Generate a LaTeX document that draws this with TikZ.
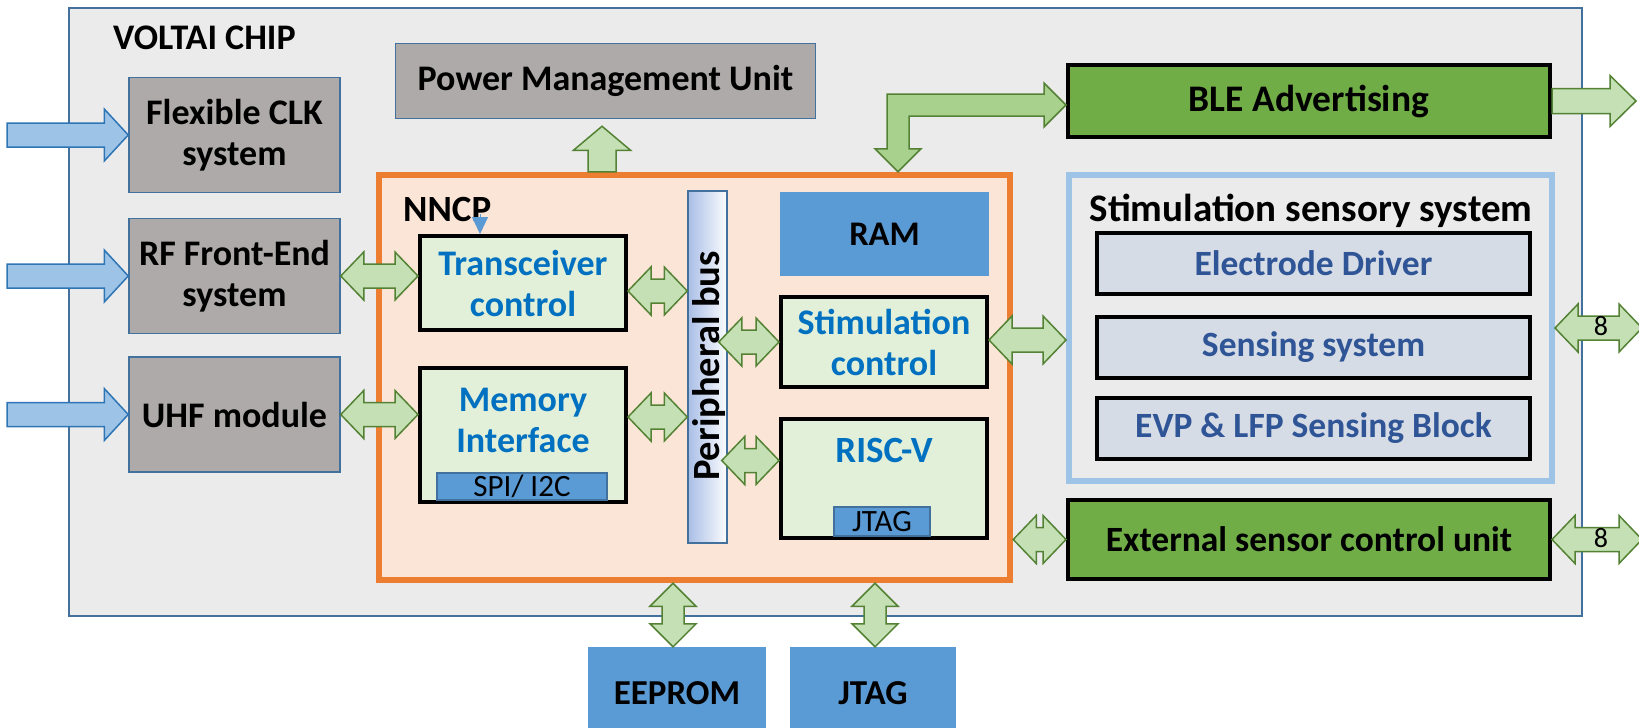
\documentclass[tikz,border=0pt]{standalone}
\usepackage{fontspec}
\setmainfont{Carlito}
\usetikzlibrary{calc,arrows.meta}

\definecolor{chipfill}{HTML}{EBEBEB}
\definecolor{chipline}{HTML}{41719C}
\definecolor{grayfill}{HTML}{AEAAAA}
\definecolor{inblue}{HTML}{9DC3E6}
\definecolor{inblueline}{HTML}{2E75B6}
\definecolor{gfill}{HTML}{C5E0B4}
\definecolor{gfilldark}{HTML}{A9D18E}
\definecolor{gline}{HTML}{548235}
\definecolor{nnfill}{HTML}{FBE5D6}
\definecolor{nnline}{HTML}{ED7D31}
\definecolor{boxfill}{HTML}{E2F0D9}
\definecolor{txtblue}{HTML}{0070C0}
\definecolor{midblue}{HTML}{5B9BD5}
\definecolor{lblue}{HTML}{9DC3E6}
\definecolor{sfill}{HTML}{D6DCE5}
\definecolor{stxt}{HTML}{2F5597}
\definecolor{bgreen}{HTML}{70AD47}
\definecolor{busblue}{HTML}{A9BEE6}

\newcommand\fsA{\fontsize{36}{41}\selectfont}
\newcommand\fsB{\fontsize{31}{36}\selectfont}
\newcommand\fsize[1]{\fontsize{#1}{41}\selectfont}

% single arrow pointing right: #2 from, #3 to, #4 half shaft, #5 half head, #6 head length
\newcommand\sglR[6][]{%
  \path[#1] let \p1=#2, \p2=#3 in
    (\x1,\y1+#4) -- (\x2-#6,\y1+#4) -- (\x2-#6,\y1+#5) -- (\x2,\y1)
    -- (\x2-#6,\y1-#5) -- (\x2-#6,\y1-#4) -- (\x1,\y1-#4) -- cycle;}
% single arrow pointing up
\newcommand\sglU[6][]{%
  \path[#1] let \p1=#2, \p2=#3 in
    (\x1-#4,\y1) -- (\x1-#4,\y2-#6) -- (\x1-#5,\y2-#6) -- (\x1,\y2)
    -- (\x1+#5,\y2-#6) -- (\x1+#4,\y2-#6) -- (\x1+#4,\y1) -- cycle;}
% horizontal double arrow
\newcommand\dblH[3][]{%
  \path[garrow,#1] let \p1=#2, \p2=#3 in
    (\x1,\y1) -- (\x1+23pt,\y1+24pt) -- (\x1+23pt,\y1+12pt) -- (\x2-23pt,\y1+12pt)
    -- (\x2-23pt,\y1+24pt) -- (\x2,\y1) -- (\x2-23pt,\y1-24pt) -- (\x2-23pt,\y1-12pt)
    -- (\x1+23pt,\y1-12pt) -- (\x1+23pt,\y1-24pt) -- cycle;}
% vertical double arrow
\newcommand\dblV[3][]{%
  \path[garrow,#1] let \p1=#2, \p2=#3 in
    (\x1,\y1) -- (\x1+23pt,\y1-23pt) -- (\x1+11pt,\y1-23pt) -- (\x1+11pt,\y2+23pt)
    -- (\x1+23pt,\y2+23pt) -- (\x1,\y2) -- (\x1-23pt,\y2+23pt) -- (\x1-11pt,\y2+23pt)
    -- (\x1-11pt,\y1-23pt) -- (\x1-23pt,\y1-23pt) -- cycle;}

\tikzset{
  base/.style={inner sep=0pt, align=center, font=\bfseries\fsA},
  hdr/.style={inner sep=0pt, font=\bfseries\fsA},
  chipbox/.style={draw=chipline, line width=2pt, fill=chipfill, minimum width=1513pt, minimum height=608pt},
  graybox/.style={base, draw=chipline, line width=1.5pt, fill=grayfill, minimum width=211pt, minimum height=115pt},
  nncpbox/.style={draw=nnline, line width=6.5pt, fill=nnfill, minimum width=631pt, minimum height=405pt},
  ctrlbox/.style={base, text=txtblue, draw=black, line width=4pt, fill=boxfill, minimum width=206pt},
  bluetext/.style={base, text=txtblue},
  subbox/.style={inner sep=0pt, font=\fsB, draw=chipline, line width=1.5pt, fill=midblue},
  busbox/.style={draw=chipline, line width=1.5pt, left color=busblue, right color=white!96!busblue, minimum width=39pt, minimum height=352pt},
  rambox/.style={base, fill=midblue, minimum width=209pt, minimum height=84pt, font=\bfseries\fsize{34.5}},
  greenbox/.style={base, draw=black, line width=4pt, fill=bgreen, minimum width=482pt},
  ssbox/.style={draw=lblue, line width=6pt, fill=chipfill, minimum width=483pt, minimum height=306pt},
  sbox/.style={base, text=stxt, draw=black, line width=4pt, fill=sfill, minimum width=433pt, minimum height=61pt, font=\bfseries\fsize{35.5}},
  extbox/.style={base, fill=midblue, minimum width=178pt, minimum height=93pt, font=\bfseries\fsize{35}},
  garrow/.style={draw=gline, fill=gfill, line width=1.5pt, line join=miter},
  bluearrow/.style={draw=inblueline, fill=inblue, line width=1.5pt, line join=miter},
}

\begin{document}
\begin{tikzpicture}[x=1pt,y=-1pt]
\useasboundingbox (0,0) rectangle (1639,728);
\clip (0,0) rectangle (1639,728);
\fill[white] (0,0) rectangle (1639,728);

% chip
\node[chipbox] (chip) at (825.5,312) {};
\node[hdr, anchor=base west] (chiplbl) at (113,49) {VOLTAI CHIP};

% left blocks
\node[graybox] (clk) at (234.5,135) {Flexible CLK\\system};
\node[graybox] (rf) at (234.5,276) {RF Front-End\\system};
\node[graybox] (uhf) at (234.5,414.5) {UHF module};
\node[graybox, minimum width=420pt, minimum height=75pt] (pmu) at (605.5,81) {Power Management Unit};

% NNCP
\node[nncpbox] (nncp) at (694.5,377.5) {};
\node[hdr, anchor=base west, font=\bfseries\fsize{37}] (nncplbl) at (403,221) {NNCP};

\node[ctrlbox, minimum height=94pt] (tx) at (523,283) {Transceiver\\control};
\node[ctrlbox, minimum height=134pt] (mem) at (523,435) {};
\node[bluetext] (memlbl) at (523,420) {Memory\\Interface};
\node[subbox, minimum width=170pt, minimum height=27pt] (spi) at (522,486.5) {SPI/ I2C};

\node[busbox] (bus) at (707.5,367) {};
\node[hdr, rotate=90, font=\bfseries\fsize{38.5}] (buslbl) at (709,366) {Peripheral bus};

\node[rambox] (ram) at (884.5,234) {RAM};
\node[ctrlbox, minimum height=90pt] (stim) at (884,342) {Stimulation\\control};
\node[ctrlbox, minimum height=119pt] (risc) at (884,478.5) {};
\node[bluetext, font=\bfseries\fsize{37}] (risclbl) at (884,450) {RISC-V};
\node[subbox, minimum width=96pt, minimum height=29pt] (rjtag) at (882,521.5) {JTAG};

% right side
\node[greenbox, minimum height=72pt, font=\bfseries\fsize{37.5}] (ble) at (1309,101) {BLE Advertising};
\node[ssbox] (stimsys) at (1310.5,328) {};
\node[hdr, anchor=base, font=\bfseries\fsize{39}] (sslbl) at (1311,221) {Stimulation sensory system};
\node[sbox] (elec) at (1313.5,263.5) {Electrode Driver};
\node[sbox] (sens) at (1313.5,347) {Sensing system};
\node[sbox] (evp) at (1313.5,428) {EVP \& LFP Sensing Block};
\node[greenbox, minimum height=79pt, font=\bfseries\fsize{35.5}] (ext) at (1309,539.5) {External sensor control unit};

% external
\node[extbox] (eeprom) at (677,693.5) {EEPROM};
\node[extbox, minimum width=166pt] (jtag) at (873,693.5) {JTAG};

% coordinates for free ends
\coordinate (in1) at (7,0 |- clk.west);
\coordinate (in2) at (7,0 |- rf.west);
\coordinate (in3) at (7,0 |- uhf.west);
\coordinate (out1) at (1642,0 |- stimsys.east);
\coordinate (out2) at (1642,0 |- ext.east);
\coordinate (bleout) at (1636,0 |- ble.east);
\coordinate (txmark) at (480,214);

% input arrows
\sglR[bluearrow]{(in1)}{(clk.west)}{12pt}{26pt}{24pt}
\sglR[bluearrow]{(in2)}{(rf.west)}{12pt}{26pt}{24pt}
\sglR[bluearrow]{(in3)}{(uhf.west)}{12pt}{26pt}{24pt}

% power arrow
\sglU[garrow]{(602,0 |- nncp.north)}{($(pmu.south)+(0,-7pt)$)}{14pt}{28.5pt}{24pt}

% double arrows
\dblH{(rf.east)}{(tx.west)}
\dblH{(uhf.east)}{(mem.west)}
\dblH{($(tx.east)+(0,-8pt)$)}{(bus.west)}
\dblH{($(mem.east)+(0,18pt)$)}{(bus.west)}
\dblH{($(bus.east |- stim.west)+(-9pt,0)$)}{(stim.west)}
\dblH{($(bus.east |- risc.west)+(-6pt,18pt)$)}{(risc.west)}
\dblH{($(stim.east)+(0,2pt)$)}{(stimsys.west)}
\dblH{(nncp.east |- ext.west)}{(ext.west)}
\dblH{(stimsys.east)}{(out1)}
\dblH{(ext.east)}{(out2)}
\dblV{(673,0 |- nncp.south)}{(eeprom.north)}
\dblV{(875,0 |- nncp.south)}{(jtag.north)}

% BLE output
\sglR[garrow]{(ble.east)}{(bleout)}{12.5pt}{25.5pt}{26pt}

% BLE elbow arrow
\path[garrow, fill=gfilldark] let \p1=(898,0 |- nncp.north), \p2=($(ble.west)+(0,-4pt)$) in
  (\x1,\y1) -- (\x1+23pt,\y1+23pt) -- (\x1+11pt,\y1+23pt) -- (\x1+11pt,\y2-11pt)
  -- (\x2-22pt,\y2-11pt) -- (\x2-22pt,\y2-22pt) -- (\x2,\y2) -- (\x2-22pt,\y2+22pt)
  -- (\x2-22pt,\y2+11pt) -- (\x1-11pt,\y2+11pt) -- (\x1-11pt,\y1+23pt) -- (\x1-23pt,\y1+23pt) -- cycle;

% labels on output arrows
\node[inner sep=0pt, font=\fontsize{28}{34}\selectfont] (n8a) at (1601,326) {8};
\node[inner sep=0pt, font=\fontsize{28}{34}\selectfont] (n8b) at (1601,538) {8};

% small marker arrow
\draw[midblue, line width=1pt, -{Triangle[width=16pt,length=17pt]}] (txmark) -- (480,0 |- tx.north);
\end{tikzpicture}
\end{document}
